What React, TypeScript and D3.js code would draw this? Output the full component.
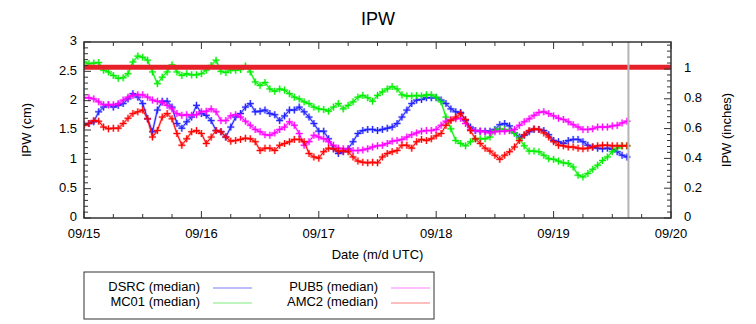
import React from "react";
import * as d3 from "d3";

// ---- data (hourly, starting 09/15 00:00 UTC) ----
const dayLabels = ["09/15", "09/16", "09/17", "09/18", "09/19", "09/20"];
const cmTicks = [0, 0.5, 1, 1.5, 2, 2.5, 3];
const inchTicks = [0, 0.2, 0.4, 0.6, 0.8, 1];
const seriesNames = ["DSRC (median)", "MC01 (median)", "PUB5 (median)", "AMC2 (median)"];
const seriesColors = ["#1f1fff", "#00ee00", "#ff00ff", "#ff0000"];
const legendColors = ["#a8a8ff", "#a8f0a8", "#ffa8ff", "#ffa8a8"];

const dsrc = [
  1.59, 1.61, 1.64, 1.81, 1.89, 1.93, 1.89, 1.92, 1.95, 2.03, 2.12, 2.06, 1.95, 1.69, 1.47, 1.84, 1.99, 1.99, 1.89, 1.61,
  1.53, 1.64, 1.72, 1.92, 1.78, 1.75, 1.66, 1.49, 1.47, 1.38, 1.55, 1.72, 1.78, 1.89, 1.95, 1.81, 1.82, 1.84, 1.78, 1.76,
  1.66, 1.74, 1.84, 1.84, 1.89, 1.81, 1.72, 1.61, 1.48, 1.48, 1.35, 1.18, 1.10, 1.13, 1.18, 1.30, 1.44,
  1.49, 1.51, 1.51, 1.49, 1.51, 1.53, 1.55, 1.61, 1.72, 1.84, 1.95, 2.01, 2.02, 2.05, 2.05, 2.05, 2.01, 1.95, 1.86, 1.81,
  1.80, 1.66, 1.55, 1.49, 1.48, 1.48, 1.48, 1.51, 1.59, 1.61, 1.57, 1.45, 1.38, 1.41, 1.47, 1.51, 1.51, 1.49, 1.42, 1.32,
  1.30, 1.27, 1.32, 1.34, 1.34, 1.30, 1.24, 1.21, 1.19, 1.18, 1.19, 1.17, 1.13, 1.07, 1.04,
];
const mc01 = [
  2.66, 2.63, 2.64, 2.65, 2.52, 2.49, 2.43, 2.38, 2.39, 2.46, 2.66, 2.76, 2.74, 2.69, 2.49, 2.29, 2.40, 2.49, 2.61, 2.49,
  2.43, 2.46, 2.44, 2.44, 2.46, 2.52, 2.60, 2.69, 2.50, 2.48, 2.52, 2.52, 2.53, 2.59, 2.49, 2.32, 2.26, 2.31, 2.20, 2.16,
  2.20, 2.18, 2.12, 2.06, 2.03, 1.98, 1.95, 1.89, 1.86, 1.85, 1.82, 1.89, 1.95, 1.86, 1.92, 1.98, 2.06,
  2.09, 2.05, 1.99, 2.09, 2.15, 2.20, 2.24, 2.20, 2.10, 2.08, 2.08, 2.09, 2.08, 2.10, 2.10, 2.06, 1.98, 1.72, 1.52, 1.32,
  1.27, 1.23, 1.30, 1.35, 1.35, 1.35, 1.38, 1.49, 1.52, 1.51, 1.49, 1.45, 1.35, 1.23, 1.14, 1.14, 1.13, 1.07, 1.01, 1.00,
  0.97, 0.94, 0.93, 0.87, 0.73, 0.70, 0.76, 0.83, 0.90, 0.98, 1.04, 1.13, 1.19, 1.23, 1.23,
];
const pub5 = [
  2.05, 2.05, 2.03, 1.98, 1.93, 1.93, 1.93, 1.95, 2.01, 2.06, 2.09, 2.10, 2.10, 2.06, 2.01, 1.99, 1.97, 1.92, 1.86, 1.78,
  1.75, 1.76, 1.75, 1.76, 1.81, 1.82, 1.86, 1.81, 1.66, 1.66, 1.74, 1.76, 1.72, 1.65, 1.58, 1.51, 1.47, 1.42, 1.41, 1.45,
  1.51, 1.55, 1.64, 1.58, 1.44, 1.24, 1.30, 1.41, 1.38, 1.35, 1.30, 1.24, 1.19, 1.18, 1.17, 1.15, 1.15,
  1.16, 1.18, 1.21, 1.23, 1.24, 1.27, 1.31, 1.32, 1.34, 1.38, 1.42, 1.45, 1.48, 1.49, 1.49, 1.51, 1.58, 1.65, 1.68, 1.69,
  1.70, 1.61, 1.51, 1.49, 1.48, 1.47, 1.45, 1.47, 1.48, 1.48, 1.49, 1.51, 1.58, 1.64, 1.69, 1.75, 1.80, 1.81, 1.78, 1.74,
  1.70, 1.68, 1.64, 1.59, 1.55, 1.51, 1.51, 1.52, 1.55, 1.55, 1.55, 1.57, 1.58, 1.62, 1.65,
];
const amc2 = [
  1.58, 1.61, 1.66, 1.65, 1.55, 1.52, 1.53, 1.53, 1.61, 1.70, 1.78, 1.81, 1.84, 1.69, 1.38, 1.49, 1.72, 1.78, 1.69, 1.44,
  1.24, 1.35, 1.47, 1.49, 1.44, 1.27, 1.38, 1.49, 1.47, 1.38, 1.31, 1.32, 1.34, 1.36, 1.35, 1.30, 1.15, 1.19, 1.19, 1.15,
  1.24, 1.27, 1.30, 1.34, 1.34, 1.30, 1.10, 1.04, 1.02, 1.13, 1.19, 1.18, 1.14, 1.14, 1.13, 1.04, 0.97,
  0.95, 0.94, 0.95, 0.94, 1.04, 1.10, 1.13, 1.15, 1.24, 1.24, 1.19, 1.30, 1.34, 1.32, 1.35, 1.40, 1.44, 1.58, 1.66, 1.72,
  1.78, 1.68, 1.49, 1.35, 1.27, 1.19, 1.14, 1.07, 1.00, 1.07, 1.13, 1.21, 1.32, 1.42, 1.49, 1.52, 1.51, 1.45, 1.38, 1.30,
  1.24, 1.23, 1.21, 1.21, 1.19, 1.18, 1.19, 1.21, 1.23, 1.24, 1.24, 1.23, 1.23, 1.23, 1.23,
];
const seriesValues = [dsrc, mc01, pub5, amc2];
const thresholdCm = 2.57; // thick red reference line
const currentTimeHours = 111.3; // gray vertical line

const W = 756;
const H = 324;
const M = { left: 84, right: 671, top: 42, bottom: 218 };
const FONT = "'Liberation Sans', Arial, Helvetica, sans-serif";
const AXIS = "#333333";

export default function App() {
  const x = d3.scaleLinear().domain([0, 120]).range([M.left, M.right]);
  const y = d3.scaleLinear().domain([0, 3]).range([M.bottom, M.top]);
  const yIn = d3.scaleLinear().domain([0, 3 / 2.54]).range([M.bottom, M.top]);

  const line = d3
    .line<number>()
    .x((_, i) => x(i))
    .y((d) => y(d));

  const plusPath = (vals: number[], s: number) =>
    vals
      .map((v, i) => {
        const cx = x(i);
        const cy = y(v);
        return `M${cx - s},${cy}H${cx + s}M${cx},${cy - s}V${cy + s}`;
      })
      .join("");

  const minorX = d3.range(0, 120.001, 6);
  const minorCm = d3.range(0, 3.0001, 0.1);
  const minorIn = d3.range(0, 3 / 2.54, 0.04);

  return (
    <svg
      width={W}
      height={H}
      style={{ position: "absolute", left: 0, top: 0, background: "#fff" }}
      fontFamily={FONT}
    >
      <rect x={0} y={0} width={W} height={H} fill="#fff" />
      <text x={378} y={20} textAnchor="middle" dominantBaseline="middle" fontSize={18}>
        IPW
      </text>

      {/* series */}
      <g clipPath="url(#clip)">
        {seriesValues.map((vals, k) => (
          <g key={k}>
            <path d={line(vals) || ""} fill="none" stroke={seriesColors[k]} strokeOpacity={0.3} strokeWidth={2.5} />
            <path d={plusPath(vals, 3.5)} fill="none" stroke={seriesColors[k]} strokeOpacity={0.3} strokeWidth={2.5} />
            <path d={line(vals) || ""} fill="none" stroke={seriesColors[k]} strokeWidth={1} />
            <path d={plusPath(vals, 3.5)} fill="none" stroke={seriesColors[k]} strokeWidth={1} />
          </g>
        ))}
      </g>
      <defs>
        <clipPath id="clip">
          <rect x={M.left} y={M.top} width={M.right - M.left} height={M.bottom - M.top} />
        </clipPath>
      </defs>

      {/* threshold & current time */}
      <line x1={M.left} x2={M.right} y1={y(thresholdCm)} y2={y(thresholdCm)} stroke="#e8202a" strokeWidth={5} />
      <line
        x1={x(currentTimeHours)}
        x2={x(currentTimeHours)}
        y1={M.top}
        y2={M.bottom}
        stroke="#b4b4b4"
        strokeWidth={2}
      />

      {/* x ticks bottom & top */}
      {minorX.map((h) => {
        const major = h % 24 === 0;
        const len = major ? 7 : 4;
        return (
          <g key={h}>
            <line x1={x(h)} x2={x(h)} y1={M.bottom} y2={M.bottom - len} stroke={AXIS} strokeWidth={1} />
            <line x1={x(h)} x2={x(h)} y1={M.top} y2={M.top + len} stroke={AXIS} strokeWidth={1} />
          </g>
        );
      })}
      {dayLabels.map((lab, i) => (
        <text key={lab} x={x(i * 24)} y={235} textAnchor="middle" dominantBaseline="middle" fontSize={13}>
          {lab}
        </text>
      ))}

      {/* left cm axis */}
      {minorCm.map((v, i) => {
        const major = i % 5 === 0;
        return (
          <line
            key={i}
            x1={M.left}
            x2={M.left + (major ? 7 : 4)}
            y1={y(v)}
            y2={y(v)}
            stroke={AXIS}
            strokeWidth={1}
          />
        );
      })}
      {cmTicks.map((v) => (
        <text key={v} x={77} y={y(v)} textAnchor="end" dominantBaseline="middle" fontSize={13}>
          {String(v)}
        </text>
      ))}

      {/* right inch axis */}
      {minorIn.map((v, i) => {
        const major = i % 5 === 0;
        return (
          <line
            key={i}
            x1={M.right}
            x2={M.right - (major ? 7 : 4)}
            y1={yIn(v)}
            y2={yIn(v)}
            stroke={AXIS}
            strokeWidth={1}
          />
        );
      })}
      {inchTicks.map((v) => (
        <text key={v} x={684} y={yIn(v)} textAnchor="start" dominantBaseline="middle" fontSize={13}>
          {String(v)}
        </text>
      ))}

      {/* frame */}
      <rect
        x={M.left}
        y={M.top}
        width={M.right - M.left}
        height={M.bottom - M.top}
        fill="none"
        stroke={AXIS}
        strokeWidth={1.5}
      />

      {/* axis titles */}
      <text
        transform={`translate(28,${(M.top + M.bottom) / 2}) rotate(-90)`}
        textAnchor="middle"
        dominantBaseline="middle"
        fontSize={13}
      >
        IPW (cm)
      </text>
      <text
        transform={`translate(728,${(M.top + M.bottom) / 2}) rotate(-90)`}
        textAnchor="middle"
        dominantBaseline="middle"
        fontSize={13}
      >
        IPW (inches)
      </text>
      <text x={(M.left + M.right) / 2} y={256} textAnchor="middle" dominantBaseline="middle" fontSize={13}>
        Date (m/d UTC)
      </text>

      {/* legend */}
      <rect x={84} y={272} width={350} height={47} fill="none" stroke={AXIS} strokeWidth={1} />
      {seriesNames.map((name, k) => {
        const col = Math.floor(k / 2);
        const row = k % 2;
        const tx = col === 0 ? 200 : 378;
        const ty = 288 + row * 15;
        return (
          <g key={name}>
            <text x={tx} y={ty} textAnchor="end" dominantBaseline="middle" fontSize={13}>
              {name}
            </text>
            <line x1={tx + 13} x2={tx + 52} y1={ty} y2={ty} stroke={legendColors[k]} strokeWidth={1.5} />
          </g>
        );
      })}
    </svg>
  );
}
